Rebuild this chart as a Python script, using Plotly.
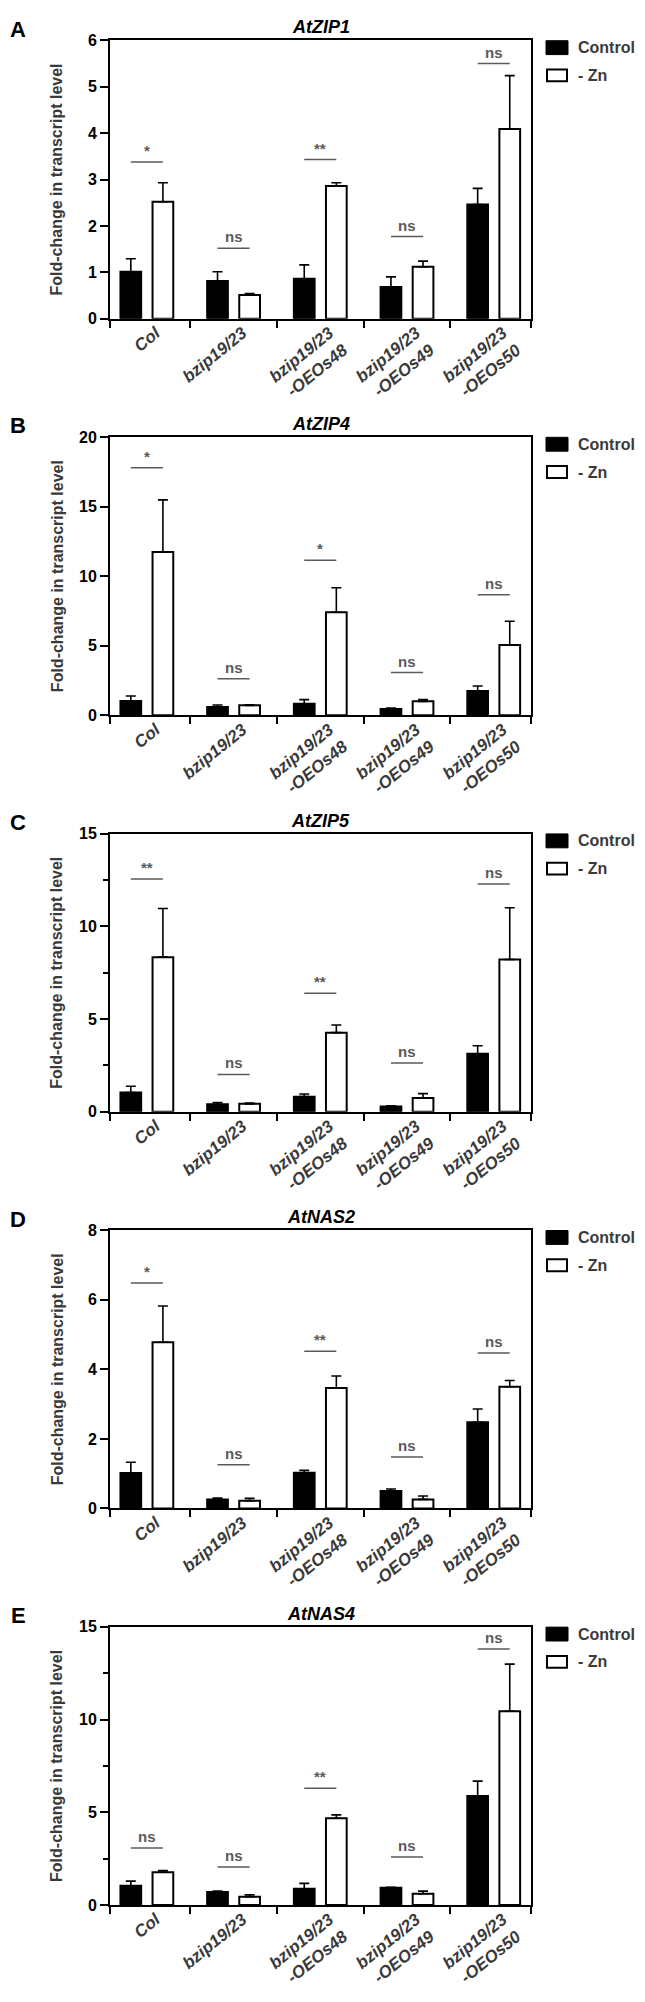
import plotly.graph_objects as go

# ---------------- data ----------------
groups = ["Col", "bzip19/23", "bzip19/23<br>-OEOs48", "bzip19/23<br>-OEOs49", "bzip19/23<br>-OEOs50"]
genes = ["AtZIP1", "AtZIP4", "AtZIP5", "AtNAS2", "AtNAS4"]
panel_letters = ["A", "B", "C", "D", "E"]
series_names = ["Control", "- Zn"]

zip1_ctrl = [1.01, 0.81, 0.86, 0.68, 2.46]
zip1_ctrl_err = [0.28, 0.20, 0.30, 0.22, 0.35]
zip1_zn = [2.52, 0.51, 2.86, 1.12, 4.09]
zip1_zn_err = [0.41, 0.03, 0.07, 0.12, 1.15]
zip1_sig = ["*", "ns", "**", "ns", "ns"]
zip1_sig_y = [3.38, 1.52, 3.43, 1.77, 5.50]

zip4_ctrl = [1.02, 0.60, 0.83, 0.45, 1.74]
zip4_ctrl_err = [0.36, 0.14, 0.29, 0.07, 0.36]
zip4_zn = [11.74, 0.71, 7.40, 1.00, 5.05]
zip4_zn_err = [3.74, 0.05, 1.76, 0.12, 1.71]
zip4_sig = ["*", "ns", "*", "ns", "ns"]
zip4_sig_y = [17.8, 2.62, 11.14, 3.07, 8.67]

zip5_ctrl = [1.04, 0.41, 0.82, 0.29, 3.13]
zip5_ctrl_err = [0.34, 0.09, 0.14, 0.03, 0.43]
zip5_zn = [8.34, 0.43, 4.27, 0.75, 8.21]
zip5_zn_err = [2.62, 0.05, 0.41, 0.23, 2.79]
zip5_sig = ["**", "ns", "**", "ns", "ns"]
zip5_sig_y = [12.55, 2.02, 6.39, 2.63, 12.29]

nas2_ctrl = [1.02, 0.26, 1.03, 0.50, 2.48]
nas2_ctrl_err = [0.31, 0.04, 0.07, 0.06, 0.38]
nas2_zn = [4.78, 0.22, 3.46, 0.26, 3.50]
nas2_zn_err = [1.04, 0.07, 0.35, 0.10, 0.18]
nas2_sig = ["*", "ns", "**", "ns", "ns"]
nas2_sig_y = [6.48, 1.26, 4.52, 1.48, 4.47]

nas4_ctrl = [1.04, 0.71, 0.88, 0.93, 5.88]
nas4_ctrl_err = [0.25, 0.04, 0.29, 0.03, 0.80]
nas4_zn = [1.77, 0.45, 4.68, 0.61, 10.45]
nas4_zn_err = [0.09, 0.10, 0.18, 0.14, 2.54]
nas4_sig = ["ns", "ns", "**", "ns", "ns"]
nas4_sig_y = [3.07, 2.05, 6.30, 2.59, 13.80]

y_max = [6, 20, 15, 8, 15]
y_step = [1, 5, 5, 2, 5]
y_minor = [None, None, 2.5, None, 2.5]

panels = [
    (zip1_ctrl, zip1_ctrl_err, zip1_zn, zip1_zn_err, zip1_sig, zip1_sig_y),
    (zip4_ctrl, zip4_ctrl_err, zip4_zn, zip4_zn_err, zip4_sig, zip4_sig_y),
    (zip5_ctrl, zip5_ctrl_err, zip5_zn, zip5_zn_err, zip5_sig, zip5_sig_y),
    (nas2_ctrl, nas2_ctrl_err, nas2_zn, nas2_zn_err, nas2_sig, nas2_sig_y),
    (nas4_ctrl, nas4_ctrl_err, nas4_zn, nas4_zn_err, nas4_sig, nas4_sig_y),
]

# ---------------- layout constants (pixels) ----------------
W, H = 645, 2002
PANEL_H = 400
PLOT_L, PLOT_R = 110, 531
PLOT_T, PLOT_B = 32.7, 313.3
X_RANGE = [-0.425, 4.43]
FONT = "Liberation Sans"
GRAY = "#3a3a3a"
SIG_GRAY = "#5a5a5a"

def px_x(p):
    return p / W

def px_y(p):
    return 1 - p / H

fig = go.Figure()
positions = list(range(len(groups)))
shapes = []
annotations = []

for k, (ctrl, ctrl_err, zn, zn_err, sig, sig_y) in enumerate(panels):
    n = k + 1
    xa = "x" if n == 1 else f"x{n}"
    ya = "y" if n == 1 else f"y{n}"
    fig.add_trace(go.Bar(
        x=positions, y=ctrl, name=series_names[0], xaxis=xa, yaxis=ya,
        marker=dict(color="black", line=dict(color="black", width=2)),
        error_y=dict(type="data", array=ctrl_err, arrayminus=[0] * len(ctrl),
                     symmetric=False, color="black", thickness=1.6, width=5),
        showlegend=False,
    ))
    fig.add_trace(go.Bar(
        x=positions, y=zn, name=series_names[1], xaxis=xa, yaxis=ya,
        marker=dict(color="white", line=dict(color="black", width=2)),
        error_y=dict(type="data", array=zn_err, arrayminus=[0] * len(zn),
                     symmetric=False, color="black", thickness=1.6, width=5),
        showlegend=False,
    ))

    off = PANEL_H * k
    xkey = "xaxis" if n == 1 else f"xaxis{n}"
    ykey = "yaxis" if n == 1 else f"yaxis{n}"
    fig.update_layout(**{
        xkey: dict(
            domain=[px_x(PLOT_L), px_x(PLOT_R)], anchor=ya,
            range=X_RANGE, tickmode="array", tickvals=positions, ticktext=groups,
            ticks="", showgrid=False, zeroline=False,
            showline=True, linecolor="black", linewidth=2, mirror=True,
            tickangle=-39, ticklabelshift=9, ticklabelstandoff=-4,
            tickfont=dict(family=FONT, size=17, color=GRAY, weight="bold", style="italic"),
            minor=dict(tickmode="array",
                       tickvals=[X_RANGE[0], 0.5, 1.5, 2.5, 3.5, X_RANGE[1]],
                       ticks="outside", ticklen=7, tickwidth=2, tickcolor="black",
                       showgrid=False),
        ),
        ykey: dict(
            domain=[px_y(PLOT_B + off), px_y(PLOT_T + off)], anchor=xa,
            range=[0, y_max[k]], tickmode="linear", tick0=0, dtick=y_step[k],
            ticks="outside", ticklen=8, tickwidth=2, tickcolor="black",
            showgrid=False, zeroline=False,
            showline=True, linecolor="black", linewidth=2, mirror=True,
            tickfont=dict(family=FONT, size=16, color="black", weight="bold"),
            minor=(dict(tick0=0, dtick=y_minor[k], ticks="outside", ticklen=5,
                        tickwidth=2, tickcolor="black", showgrid=False)
                   if y_minor[k] else dict(ticks="")),
        ),
    })

    # significance brackets
    for i, (s, sy) in enumerate(zip(sig, sig_y)):
        shapes.append(dict(type="line", xref=xa, yref=ya,
                           x0=i - 0.185, x1=i + 0.185, y0=sy, y1=sy,
                           line=dict(color=SIG_GRAY, width=1.5)))
        annotations.append(dict(xref=xa, yref=ya, x=i, y=sy, text=s,
                                showarrow=False, xanchor="center", yanchor="bottom",
                                yshift=1,
                                font=dict(family=FONT, size=15, color=SIG_GRAY, weight="bold")))

    # panel letter and title
    annotations.append(dict(xref="paper", yref="paper", x=px_x(18), y=px_y(21.5 + off),
                            text=panel_letters[k], showarrow=False,
                            xanchor="center", yanchor="middle",
                            font=dict(family=FONT, size=22, color="black", weight="bold")))
    annotations.append(dict(xref="paper", yref="paper", x=px_x((PLOT_L + PLOT_R) / 2),
                            y=px_y(19.5 + off), text=genes[k], showarrow=False,
                            xanchor="center", yanchor="middle",
                            font=dict(family=FONT, size=18, color="black",
                                      weight="bold", style="italic")))
    # y axis title
    annotations.append(dict(xref="paper", yref="paper", x=px_x(57),
                            y=px_y((PLOT_T + PLOT_B) / 2 + off),
                            text="Fold-change in transcript level", showarrow=False,
                            textangle=-90, xanchor="center", yanchor="middle",
                            font=dict(family=FONT, size=16, color=GRAY, weight="bold")))

    # legend
    shapes.append(dict(type="rect", xref="paper", yref="paper",
                       x0=px_x(546), x1=px_x(568), y0=px_y(47 + off), y1=px_y(33 + off),
                       fillcolor="black", line=dict(color="black", width=1)))
    shapes.append(dict(type="rect", xref="paper", yref="paper",
                       x0=px_x(547), x1=px_x(567), y0=px_y(74 + off), y1=px_y(62 + off),
                       fillcolor="white", line=dict(color="black", width=2)))
    annotations.append(dict(xref="paper", yref="paper", x=px_x(576), y=px_y(40 + off),
                            text=series_names[0], showarrow=False,
                            xanchor="left", yanchor="middle",
                            font=dict(family=FONT, size=16, color=GRAY, weight="bold")))
    annotations.append(dict(xref="paper", yref="paper", x=px_x(576), y=px_y(68 + off),
                            text=series_names[1], showarrow=False,
                            xanchor="left", yanchor="middle",
                            font=dict(family=FONT, size=16, color=GRAY, weight="bold")))

fig.update_layout(
    width=W, height=H,
    margin=dict(l=0, r=0, t=0, b=0),
    paper_bgcolor="white", plot_bgcolor="white",
    barmode="group", bargap=0.26, bargroupgap=0.354,
    shapes=shapes, annotations=annotations,
    showlegend=False,
)

fig.write_html(
    "out.html",
    config={"displayModeBar": False},
    post_script="document.body.style.margin='0';document.body.style.overflow='hidden';",
)
